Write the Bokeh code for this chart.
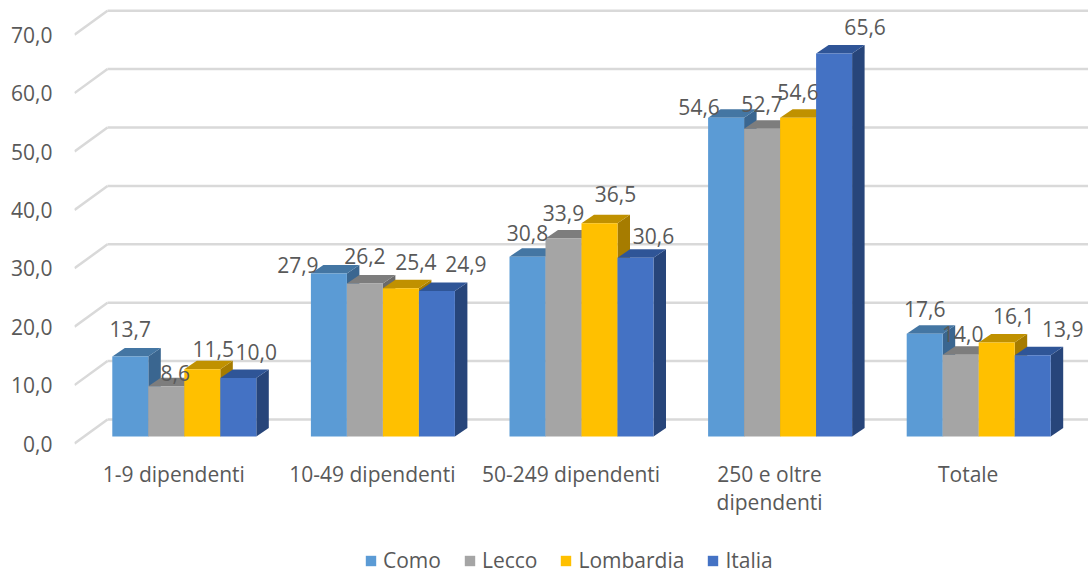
from bokeh.plotting import figure
from bokeh.models import ColumnDataSource, FixedTicker, Legend, LegendItem, Range1d
from bokeh.core.properties import value
from bokeh.embed import file_html
from bokeh.resources import INLINE

categories = ["1-9 dipendenti", "10-49 dipendenti", "50-249 dipendenti", "250 e oltre\ndipendenti", "Totale"]
como = [13.7, 27.9, 30.8, 54.6, 17.6]
lecco = [8.6, 26.2, 33.9, 52.7, 14.0]
lombardia = [11.5, 25.4, 36.5, 54.6, 16.1]
italia = [10.0, 24.9, 30.6, 65.6, 13.9]
series_names = ["Como", "Lecco", "Lombardia", "Italia"]
y_ticks = [0, 10, 20, 30, 40, 50, 60, 70]
y_tick_labels = ["0,0", "10,0", "20,0", "30,0", "40,0", "50,0", "60,0", "70,0"]

series_values = [como, lecco, lombardia, italia]
front_colors = ["#5B9BD5", "#A5A5A5", "#FFC000", "#4472C4"]
top_colors = ["#4476A3", "#7D7D7D", "#C09100", "#2F5597"]
side_colors = ["#3A6690", "#6A6A6A", "#A67C00", "#27457A"]
# hand-placed label displacement from the bar-top centre, px (as in the reference)
label_dx = [[0, -31, 0, -27, 0], [9, 0, 0, 0, 2], [11, 15, 16, 0, 17], [18, 29, 18, 31, 30]]
label_dy = [[-27, -9, -24, -11, -25], [-13, -27, -26, -25, -21], [-20, -26, -29, -26, -26], [-26, -27, -22, -26, -26]]

PX = 198.6   # px per category
PY = 5.84    # px per value unit
FONT = "Open Sans"
TEXT = "#595959"
FS = "21px"

W, H = 1088, 574
LEFT, BOTTOM = 74, 131
x_max = (W - LEFT) / PX
y_top = (H - BOTTOM) / PY
y_bottom = -BOTTOM / PY   # the frame runs to the page foot so the legend is not clipped

p = figure(width=W, height=H, output_backend="svg", toolbar_location=None,
           x_range=Range1d(0, x_max), y_range=Range1d(y_bottom, y_top),
           min_border_left=LEFT, min_border_right=0, min_border_top=0, min_border_bottom=0,
           outline_line_color=None, background_fill_color="white")
p.grid.visible = False

ax = p.xaxis[0]
ax.fixed_location = 0
ax.ticker = FixedTicker(ticks=[i + 0.5 for i in range(len(categories))])
ax.major_label_overrides = {i + 0.5: c for i, c in enumerate(categories)}
ax.axis_line_color = None
ax.major_tick_line_color = None
ax.minor_tick_line_color = None
ax.major_tick_out = 0
ax.major_label_standoff = 16
ax.major_label_text_font = FONT
ax.major_label_text_font_size = FS
ax.major_label_text_color = TEXT
ax.major_label_text_line_height = 1.0

ay = p.yaxis[0]
ay.ticker = FixedTicker(ticks=y_ticks)
ay.major_label_overrides = dict(zip(y_ticks, y_tick_labels))
ay.axis_line_color = None
ay.major_tick_line_color = None
ay.minor_tick_line_color = None
ay.major_tick_out = 0
ay.major_label_standoff = 22
ay.major_label_text_font = FONT
ay.major_label_text_font_size = FS
ay.major_label_text_color = TEXT

# grid: side wall diagonals and back wall lines
wall_dx, wall_dy = 33 / PX, 24 / PY
GRID = "#D9D9D9"
p.segment(x0=[0] * len(y_ticks), y0=y_ticks, x1=[wall_dx] * len(y_ticks),
          y1=[v + wall_dy for v in y_ticks], line_color=GRID, line_width=2.5)
p.segment(x0=[wall_dx] * len(y_ticks), y0=[v + wall_dy for v in y_ticks],
          x1=[x_max] * len(y_ticks), y1=[v + wall_dy for v in y_ticks],
          line_color=GRID, line_width=2.5)

# bars
bar_w = 36 / PX
lift = 7 / PY          # front face sits this far above the axis floor
start = 10.5 / PX
depth_x, depth_y = 12.5 / PX, 8.5 / PY
items = []
for s, vals in enumerate(series_values):
    lefts = [i + 0.5 + start + (s - 2) * bar_w for i in range(len(vals))]
    rights = [l + bar_w for l in lefts]
    tops = [v + lift for v in vals]
    p.patches(xs=[[r, r + depth_x, r + depth_x, r] for r in rights],
              ys=[[lift, lift + depth_y, t + depth_y, t] for t in tops],
              fill_color=side_colors[s], line_color=None)
    p.patches(xs=[[l, r, r + depth_x, l + depth_x] for l, r in zip(lefts, rights)],
              ys=[[t, t, t + depth_y, t + depth_y] for t in tops],
              fill_color=top_colors[s], line_color=None)
    q = p.quad(left=lefts, right=rights, bottom=[lift] * len(vals), top=tops,
               fill_color=front_colors[s], line_color=None)
    items.append(LegendItem(label=series_names[s], renderers=[q]))

# data labels
for s, vals in enumerate(series_values):
    xs = [i + 0.5 + start + (s - 2) * bar_w + bar_w / 2 for i in range(len(vals))]
    src = ColumnDataSource(dict(
        x=xs, y=[v + lift for v in vals],
        t=[f"{v:.1f}".replace(".", ",") for v in vals],
        dx=label_dx[s], dy=label_dy[s]))
    p.text(x="x", y="y", text="t", x_offset="dx", y_offset="dy", source=src,
           text_align="center", text_baseline="middle",
           text_font=value(FONT), text_font_size=FS, text_color=TEXT)

legend = Legend(items=items, orientation="horizontal", location=(290, 0),
                glyph_width=13, glyph_height=13, label_standoff=6, spacing=22,
                padding=0, margin=0, border_line_color=None, background_fill_alpha=0,
                label_text_font=FONT, label_text_font_size=FS, label_text_color=TEXT)
p.add_layout(legend, "center")

open("out.html", "w").write(file_html(p, INLINE))
